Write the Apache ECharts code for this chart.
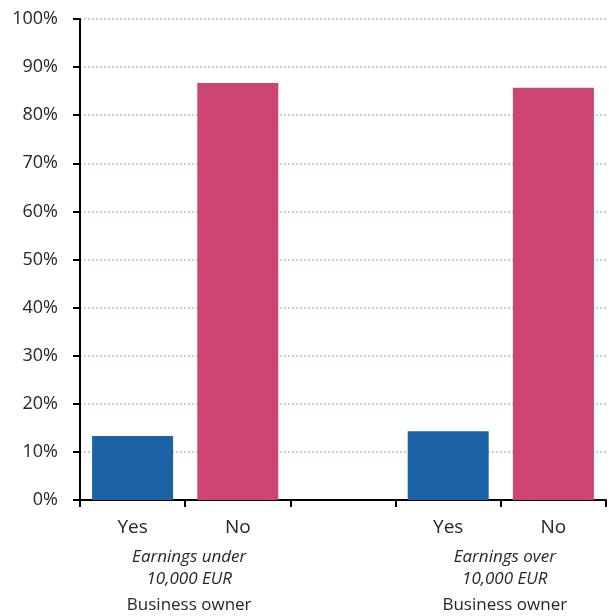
<!DOCTYPE html>
<html>
<head>
<meta charset="utf-8">
<script src="https://cdn.jsdelivr.net/npm/echarts@6/dist/echarts.min.js"></script>
<style>html,body{margin:0;padding:0;background:#fff}#c{width:609px;height:616px}</style>
</head>
<body>
<div id="c"></div>
<script>
const categories = ['Yes', 'No', '', 'Yes', 'No'];
const yesValues = [13.3, null, null, 14.3, null];
const noValues = [null, 86.7, null, null, 85.7];
const groupPositions = ['', 'g1', '', '', 'g2', ''];
const groupLabels = { g1: ['Earnings under', '10,000 EUR', 'Business owner'], g2: ['Earnings over', '10,000 EUR', 'Business owner'] };
const yMin = 0, yMax = 100, yStep = 10;

const FONT = '"Open Sans", "Noto Sans", sans-serif';
const TXT = '#262626';
const chart = echarts.init(document.getElementById('c'), null, { renderer: 'canvas' });
chart.setOption({
  animation: false,
  backgroundColor: '#fff',
  grid: { left: 80, right: 0, top: 19, bottom: 116, containLabel: false },
  xAxis: [
    {
      type: 'category', data: categories, position: 'bottom',
      axisLine: { show: true, lineStyle: { color: '#000', width: 2 } },
      axisTick: { show: true, length: 7, lineStyle: { color: '#000', width: 2 } },
      axisLabel: { interval: 0, margin: 18, fontFamily: FONT, fontSize: 19, color: TXT }
    },
    {
      type: 'category', data: groupPositions, position: 'bottom', boundaryGap: false,
      axisLine: { show: false }, axisTick: { show: false }, splitLine: { show: false },
      axisLabel: {
        interval: 0, margin: 46, color: TXT, fontFamily: FONT,
        formatter: function (v) {
          if (!groupLabels[v]) return '';
          const g = groupLabels[v];
          return '{i|' + g[0] + '}\n{i|' + g[1] + '}\n{b|' + g[2] + '}';
        },
        rich: {
          i: { fontStyle: 'italic', fontSize: 17, lineHeight: 22, fontFamily: FONT, color: TXT, padding: [0, 0, 0, 8] },
          b: { fontSize: 17, lineHeight: 31, fontFamily: FONT, color: TXT, padding: [0, 0, 0, 8] }
        }
      }
    }
  ],
  yAxis: {
    type: 'value', min: yMin, max: yMax, interval: yStep,
    axisLine: { show: true, lineStyle: { color: '#000', width: 2 } },
    axisTick: { show: true, length: 7, lineStyle: { color: '#000', width: 2 } },
    axisLabel: { formatter: '{value}%', margin: 22, fontFamily: FONT, fontSize: 18, color: TXT },
    splitLine: { show: true, lineStyle: { color: '#b6d8e3', width: 2, type: [2, 2] } }
  },
  series: [
    { type: 'bar', name: 'Yes', data: yesValues, stack: 'a', barWidth: '77%', itemStyle: { color: '#1b63a5' } },
    { type: 'bar', name: 'No', data: noValues, stack: 'a', barWidth: '77%', itemStyle: { color: '#cb4472' } }
  ]
});
</script>
</body>
</html>
